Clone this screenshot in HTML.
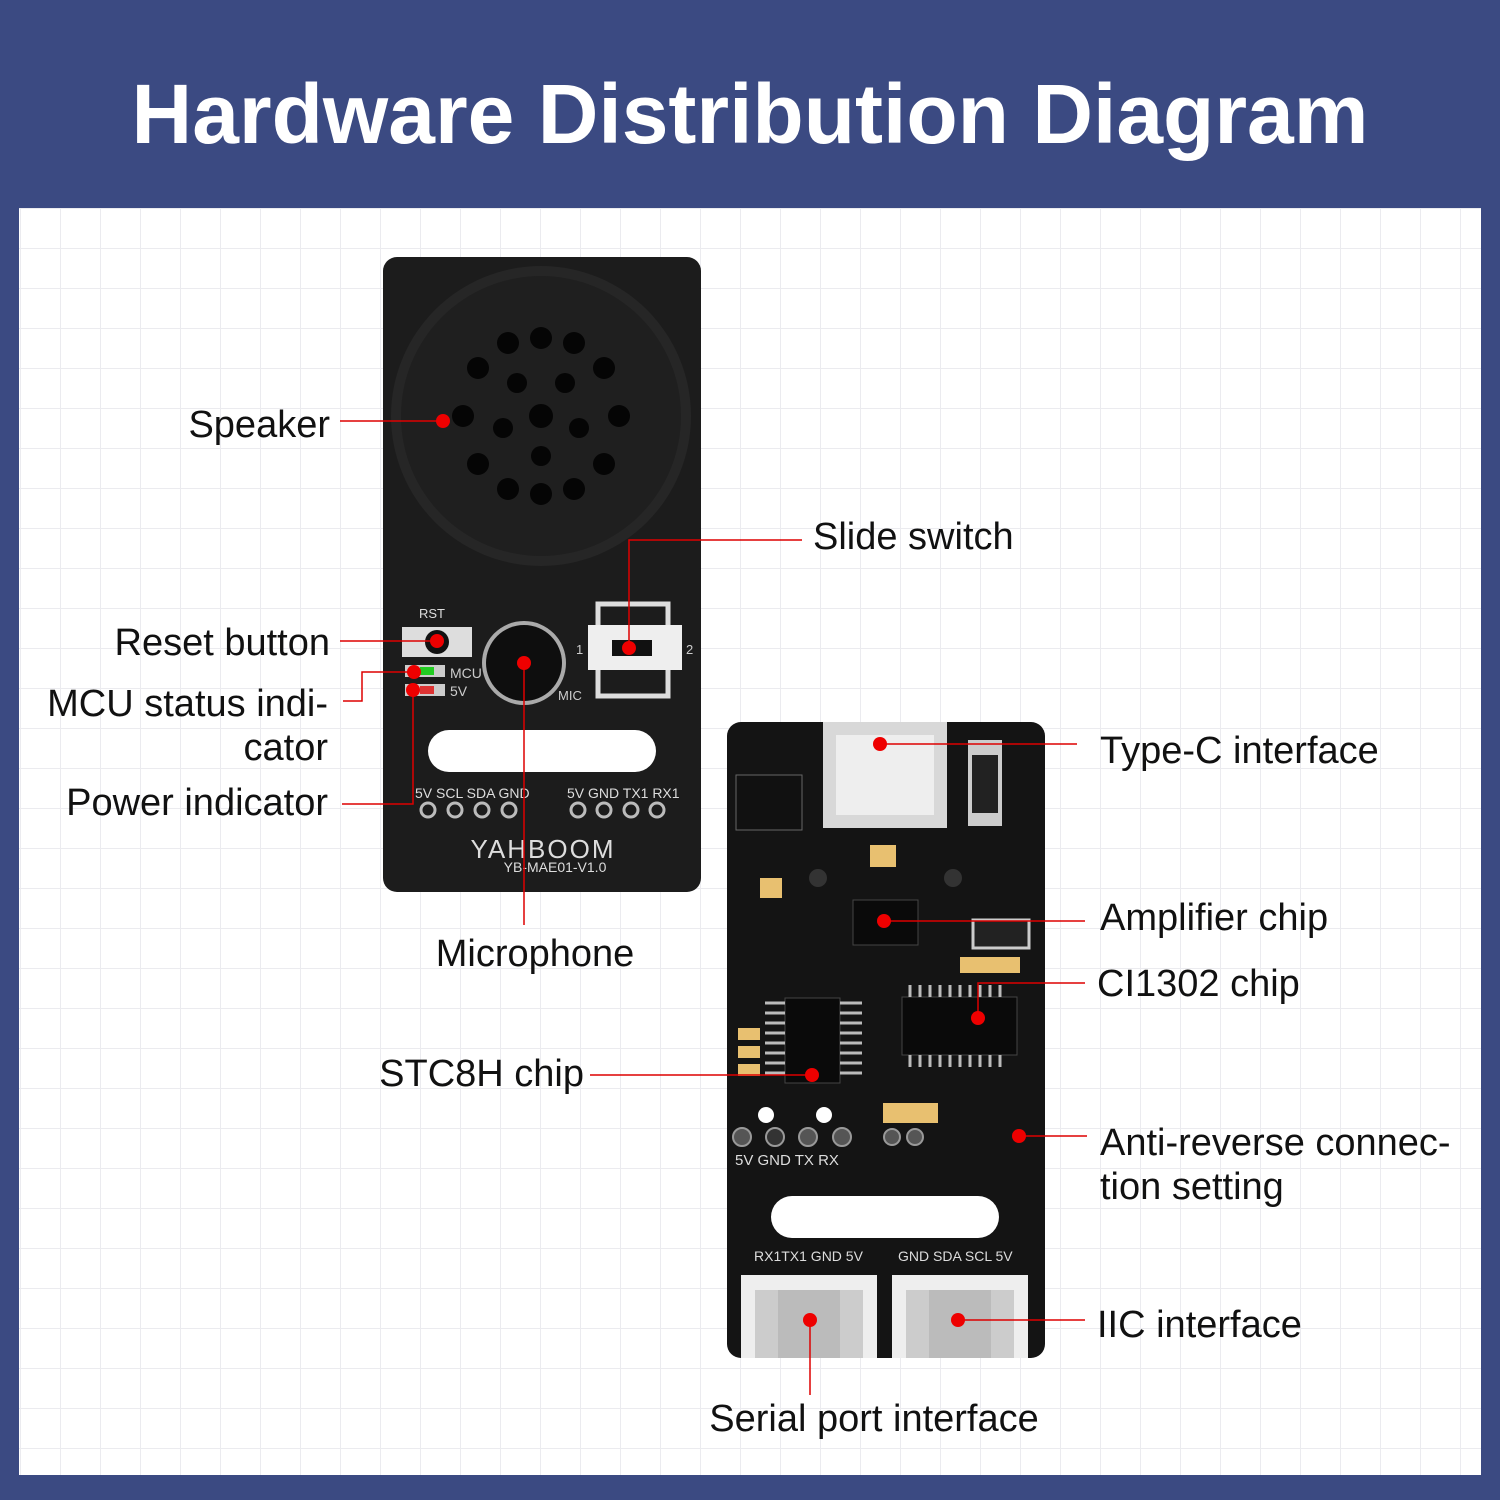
<!DOCTYPE html>
<html><head><meta charset="utf-8"><style>
html,body{margin:0;padding:0;width:1500px;height:1500px;background:#3b4a82;overflow:hidden}
svg{display:block}
text{font-family:"Liberation Sans","DejaVu Sans",sans-serif}
</style></head><body>
<svg width="1500" height="1500" viewBox="0 0 1500 1500" xmlns="http://www.w3.org/2000/svg">
<defs>
<pattern id="g" x="20" y="8" width="40" height="40" patternUnits="userSpaceOnUse">
<rect width="40" height="40" fill="#fff"/>
<path d="M0 0H40M0 0V40" stroke="#ebebef" stroke-width="2"/>
</pattern>
</defs>
<rect width="1500" height="1500" fill="#3b4a82"/>
<text x="750" y="143" text-anchor="middle" font-size="84" font-weight="bold" fill="#fff">Hardware Distribution Diagram</text>
<rect x="19" y="208" width="1462" height="1267" fill="url(#g)"/>

<!-- Board 1 -->
<rect x="383" y="257" width="318" height="635" rx="14" fill="#1c1c1c"/>
<circle cx="541" cy="416" r="150" fill="#262626"/>
<circle cx="541" cy="416" r="140" fill="#1f1f1f"/>
<g fill="#050505">
<circle cx="541" cy="416" r="12"/>
<circle cx="541" cy="338" r="11"/><circle cx="541" cy="494" r="11"/>
<circle cx="463" cy="416" r="11"/><circle cx="619" cy="416" r="11"/>
<circle cx="508" cy="343" r="11"/><circle cx="574" cy="343" r="11"/>
<circle cx="508" cy="489" r="11"/><circle cx="574" cy="489" r="11"/>
<circle cx="478" cy="368" r="11"/><circle cx="604" cy="368" r="11"/>
<circle cx="478" cy="464" r="11"/><circle cx="604" cy="464" r="11"/>
<circle cx="517" cy="383" r="10"/><circle cx="565" cy="383" r="10"/>
<circle cx="503" cy="428" r="10"/><circle cx="579" cy="428" r="10"/>
<circle cx="541" cy="456" r="10"/>
</g>
<text x="432" y="618" text-anchor="middle" font-size="13" fill="#ddd" font-family="Liberation Serif">RST</text>
<rect x="402" y="627" width="70" height="30" fill="#ddd"/>
<circle cx="437" cy="642" r="12" fill="#111"/>
<rect x="405" y="665" width="40" height="12" fill="#ccc"/><rect x="420" y="667" width="14" height="8" fill="#2c2"/>
<rect x="405" y="684" width="40" height="12" fill="#ccc"/><rect x="420" y="686" width="14" height="8" fill="#d33"/>
<text x="450" y="678" font-size="14" fill="#ccc" font-family="Liberation Serif">MCU</text>
<text x="450" y="696" font-size="14" fill="#ccc" font-family="Liberation Serif">5V</text>
<circle cx="524" cy="663" r="42" fill="#aaa"/><circle cx="524" cy="663" r="38" fill="#0e0e0e"/>
<text x="558" y="700" font-size="13" fill="#ccc" font-family="Liberation Serif">MIC</text>
<rect x="598" y="604" width="70" height="92" fill="none" stroke="#ddd" stroke-width="5"/>
<rect x="588" y="625" width="94" height="45" fill="#eee"/>
<rect x="612" y="640" width="40" height="16" fill="#111"/>
<text x="576" y="654" font-size="13" fill="#ccc">1</text><text x="686" y="654" font-size="13" fill="#ccc">2</text>
<rect x="428" y="730" width="228" height="42" rx="21" fill="#fff"/>
<text x="415" y="798" font-size="14" fill="#ddd" font-family="Liberation Serif">5V SCL SDA GND</text>
<text x="567" y="798" font-size="14" fill="#ddd" font-family="Liberation Serif">5V GND TX1 RX1</text>
<g fill="none" stroke="#bbb" stroke-width="3">
<circle cx="428" cy="810" r="7"/><circle cx="455" cy="810" r="7"/><circle cx="482" cy="810" r="7"/><circle cx="509" cy="810" r="7"/>
<circle cx="578" cy="810" r="7"/><circle cx="604" cy="810" r="7"/><circle cx="631" cy="810" r="7"/><circle cx="657" cy="810" r="7"/>
</g>
<text x="543" y="858" text-anchor="middle" font-size="26" fill="#ddd" letter-spacing="2">YAHBOOM</text>
<text x="555" y="872" text-anchor="middle" font-size="14" fill="#ddd" font-family="Liberation Serif">YB-MAE01-V1.0</text>

<!-- Board 2 -->
<rect x="727" y="722" width="318" height="636" rx="14" fill="#141414"/>
<rect x="823" y="722" width="124" height="106" fill="#d8d8d8"/>
<rect x="836" y="735" width="98" height="80" fill="#eee"/>
<rect x="968" y="740" width="34" height="86" fill="#ccc"/><rect x="972" y="755" width="26" height="58" fill="#222"/>
<rect x="736" y="775" width="66" height="55" fill="#111" stroke="#666"/>
<rect x="853" y="900" width="65" height="45" fill="#0a0a0a" stroke="#444"/>
<rect x="902" y="997" width="115" height="58" fill="#0a0a0a" stroke="#444"/>
<g stroke="#bbb" stroke-width="3"><path d="M910 985V997M920 985V997M930 985V997M940 985V997M950 985V997M960 985V997M970 985V997M980 985V997M990 985V997M1000 985V997"/>
<path d="M910 1055V1067M920 1055V1067M930 1055V1067M940 1055V1067M950 1055V1067M960 1055V1067M970 1055V1067M980 1055V1067M990 1055V1067M1000 1055V1067"/></g>
<rect x="785" y="998" width="55" height="85" fill="#0a0a0a" stroke="#444"/>
<g stroke="#bbb" stroke-width="3"><path d="M765 1003H785M765 1013H785M765 1023H785M765 1033H785M765 1043H785M765 1053H785M765 1063H785M765 1073H785M840 1003H862M840 1013H862M840 1023H862M840 1033H862M840 1043H862M840 1053H862M840 1063H862M840 1073H862"/></g>
<rect x="973" y="920" width="56" height="28" fill="#222" stroke="#ccc" stroke-width="3"/>
<g fill="#e8c070"><rect x="738" y="1028" width="22" height="12"/><rect x="738" y="1046" width="22" height="12"/><rect x="738" y="1064" width="22" height="12"/><rect x="883" y="1103" width="55" height="20"/><rect x="960" y="957" width="60" height="16"/><rect x="870" y="845" width="26" height="22"/><rect x="760" y="878" width="22" height="20"/></g>
<g fill="#fff"><circle cx="766" cy="1115" r="8"/><circle cx="824" cy="1115" r="8"/></g>
<g fill="#555" stroke="#999" stroke-width="2"><circle cx="742" cy="1137" r="9"/><circle cx="775" cy="1137" r="9" fill="#333"/><circle cx="808" cy="1137" r="9"/><circle cx="842" cy="1137" r="9"/><circle cx="892" cy="1137" r="8"/><circle cx="915" cy="1137" r="8"/></g>
<text x="735" y="1165" font-size="15" fill="#ddd" font-family="Liberation Serif">5V  GND  TX   RX</text>
<circle cx="818" cy="878" r="9" fill="#333"/><circle cx="953" cy="878" r="9" fill="#333"/>
<rect x="771" y="1196" width="228" height="42" rx="21" fill="#fff"/>
<text x="754" y="1261" font-size="14" fill="#ddd" font-family="Liberation Serif">RX1TX1 GND 5V</text>
<text x="898" y="1261" font-size="14" fill="#ddd" font-family="Liberation Serif">GND SDA SCL 5V</text>
<rect x="741" y="1275" width="136" height="83" fill="#eee"/><rect x="755" y="1290" width="108" height="68" fill="#ccc"/><rect x="778" y="1290" width="62" height="68" fill="#bbb"/>
<rect x="892" y="1275" width="136" height="83" fill="#eee"/><rect x="906" y="1290" width="108" height="68" fill="#ccc"/><rect x="929" y="1290" width="62" height="68" fill="#bbb"/>

<!-- Connectors -->
<g stroke="#d00" stroke-width="1.5" fill="none">
<path d="M340 421H443"/>
<path d="M629 648V540H802"/>
<path d="M340 641H437"/>
<path d="M343 701H362V672H414"/>
<path d="M342 804H413V690"/>
<path d="M524 663V925"/>
<path d="M880 744H1077"/>
<path d="M884 921H1085"/>
<path d="M978 1018V983H1085"/>
<path d="M590 1075H812"/>
<path d="M1019 1136H1087"/>
<path d="M958 1320H1085"/>
<path d="M810 1320V1395"/>
</g>
<g fill="#e00">
<circle cx="443" cy="421" r="7"/><circle cx="629" cy="648" r="7"/><circle cx="437" cy="641" r="7"/>
<circle cx="414" cy="672" r="7"/><circle cx="413" cy="690" r="7"/><circle cx="524" cy="663" r="7"/>
<circle cx="880" cy="744" r="7"/><circle cx="884" cy="921" r="7"/><circle cx="978" cy="1018" r="7"/>
<circle cx="812" cy="1075" r="7"/><circle cx="1019" cy="1136" r="7"/><circle cx="958" cy="1320" r="7"/><circle cx="810" cy="1320" r="7"/>
</g>

<!-- Labels -->
<g font-size="38" fill="#111">
<text x="330" y="437" text-anchor="end">Speaker</text>
<text x="813" y="549">Slide switch</text>
<text x="330" y="655" text-anchor="end">Reset button</text>
<text x="328" y="716" text-anchor="end">MCU status indi-</text>
<text x="328" y="760" text-anchor="end">cator</text>
<text x="328" y="815" text-anchor="end">Power indicator</text>
<text x="535" y="966" text-anchor="middle">Microphone</text>
<text x="1100" y="763">Type-C interface</text>
<text x="1100" y="930">Amplifier chip</text>
<text x="1097" y="996">CI1302 chip</text>
<text x="584" y="1086" text-anchor="end">STC8H chip</text>
<text x="1100" y="1155">Anti-reverse connec-</text>
<text x="1100" y="1199">tion setting</text>
<text x="1097" y="1337">IIC interface</text>
<text x="874" y="1431" text-anchor="middle">Serial port interface</text>
</g>
</svg>
</body></html>
